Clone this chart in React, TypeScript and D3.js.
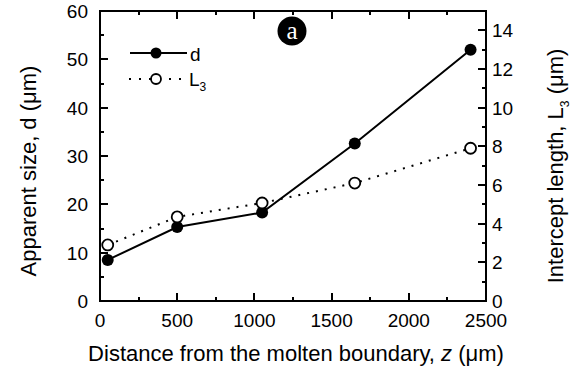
// Apparent size d and intercept length L3 vs distance from molten boundary.
// Twin y-axes (left: d in μm 0–60, right: L3 in μm 0–15), inward ticks,
// framed plot box, Origin-style markers and legend.
import * as d3 from "d3";

const W = 584;
const H = 369;

// data
const distance = [50, 500, 1050, 1650, 2400];
const apparentSize = [8.5, 15.3, 18.3, 32.6, 52.0]; // d, left axis
const interceptLength = [2.9, 4.35, 5.07, 6.1, 7.9]; // L3, right axis

const xTicks = [0, 500, 1000, 1500, 2000, 2500];
const yLeftTicks = [0, 10, 20, 30, 40, 50, 60];
const yRightTicks = [0, 2, 4, 6, 8, 10, 12, 14];

const FONT = "'Liberation Sans', Arial, sans-serif";

export default function App() {
  const m = { left: 100, right: 486, top: 11, bottom: 301 };

  const x = d3.scaleLinear().domain([0, 2500]).range([m.left, m.right]);
  const yL = d3.scaleLinear().domain([0, 60]).range([m.bottom, m.top]);
  const yR = d3.scaleLinear().domain([0, 15]).range([m.bottom, m.top]);

  const line = d3
    .line<[number, number]>()
    .x((d) => d[0])
    .y((d) => d[1]);

  const dPts = distance.map((z, i) => [x(z), yL(apparentSize[i])] as [number, number]);
  const lPts = distance.map((z, i) => [x(z), yR(interceptLength[i])] as [number, number]);

  const major = 8;
  const minor = 4;
  const xMinor = d3.range(250, 2500, 500);
  const yLMinor = d3.range(5, 60, 10);
  const yRMinor = d3.range(1, 15, 2);

  const tick = { stroke: "#000", strokeWidth: 2, shapeRendering: "crispEdges" as const };

  return (
    <svg
      width={W}
      height={H}
      viewBox={`0 0 ${W} ${H}`}
      style={{ position: "fixed", left: 0, top: 0, background: "#fff" }}
      fontFamily={FONT}
    >
      <rect width={W} height={H} fill="#fff" />

      {/* ticks, bottom + top (inward) */}
      {xTicks.slice(1, -1).map((t) => (
        <g key={`xt${t}`}>
          <line x1={x(t)} x2={x(t)} y1={m.bottom} y2={m.bottom - major} {...tick} />
          <line x1={x(t)} x2={x(t)} y1={m.top} y2={m.top + major} {...tick} />
        </g>
      ))}
      {xMinor.map((t) => (
        <g key={`xm${t}`}>
          <line x1={x(t)} x2={x(t)} y1={m.bottom} y2={m.bottom - minor} {...tick} />
          <line x1={x(t)} x2={x(t)} y1={m.top} y2={m.top + minor} {...tick} />
        </g>
      ))}
      {/* left ticks */}
      {yLeftTicks.slice(1, -1).map((t) => (
        <line key={`yl${t}`} x1={m.left} x2={m.left + major} y1={yL(t)} y2={yL(t)} {...tick} />
      ))}
      {yLMinor.map((t) => (
        <line key={`ylm${t}`} x1={m.left} x2={m.left + minor} y1={yL(t)} y2={yL(t)} {...tick} />
      ))}
      {/* right ticks */}
      {yRightTicks.slice(1).map((t) => (
        <line key={`yr${t}`} x1={m.right} x2={m.right - major} y1={yR(t)} y2={yR(t)} {...tick} />
      ))}
      {yRMinor.map((t) => (
        <line key={`yrm${t}`} x1={m.right} x2={m.right - minor} y1={yR(t)} y2={yR(t)} {...tick} />
      ))}

      {/* frame */}
      <rect
        x={m.left}
        y={m.top}
        width={m.right - m.left}
        height={m.bottom - m.top}
        fill="none"
        stroke="#000"
        strokeWidth={2}
        shapeRendering="crispEdges"
      />

      {/* tick labels */}
      {xTicks.map((t) => (
        <text key={`xl${t}`} x={x(t)} y={m.bottom + 26} textAnchor="middle" fontSize={19}>
          {t}
        </text>
      ))}
      {yLeftTicks.map((t) => (
        <text key={`yll${t}`} x={88} y={yL(t) + 7} textAnchor="end" fontSize={19}>
          {t}
        </text>
      ))}
      {yRightTicks.map((t) => (
        <text key={`yrl${t}`} x={492} y={yR(t) + 7} textAnchor="start" fontSize={19}>
          {t}
        </text>
      ))}

      {/* axis titles */}
      <text x={296} y={361} textAnchor="middle" fontSize={22}>
        Distance from the molten boundary, <tspan fontStyle="italic">z</tspan> (μm)
      </text>
      <text transform="translate(36,171) rotate(-90)" textAnchor="middle" fontSize={22}>
        Apparent size, d (μm)
      </text>
      <text transform="translate(563,166) rotate(-90)" textAnchor="middle" fontSize={22}>
        Intercept length, L<tspan fontSize={12} dy={6}>3</tspan>
        <tspan dy={-6}> (μm)</tspan>
      </text>

      {/* series */}
      <path d={line(lPts) ?? ""} fill="none" stroke="#000" strokeWidth={2} strokeDasharray="2,7" />
      <path d={line(dPts) ?? ""} fill="none" stroke="#000" strokeWidth={2} />
      {dPts.map(([cx, cy], i) => (
        <circle key={`dp${i}`} cx={cx} cy={cy} r={6} fill="#000" />
      ))}
      {lPts.map(([cx, cy], i) => (
        <circle key={`lp${i}`} cx={cx} cy={cy} r={5.5} fill="#fff" stroke="#000" strokeWidth={1.8} />
      ))}

      {/* legend */}
      <line x1={130} x2={187} y1={53} y2={53} stroke="#000" strokeWidth={2} />
      <circle cx={156} cy={53} r={5.5} fill="#000" />
      <text x={190} y={61} fontSize={19}>d</text>
      <line x1={129} x2={182} y1={79} y2={79} stroke="#000" strokeWidth={2} strokeDasharray="2,8" />
      <circle cx={156} cy={79} r={5} fill="#fff" stroke="#000" strokeWidth={1.8} />
      <text x={189} y={86} fontSize={19}>
        L<tspan fontSize={12} dy={5}>3</tspan>
      </text>

      {/* panel label */}
      <circle cx={292} cy={31} r={14.5} fill="#000" />
      <text
        x={292}
        y={39}
        textAnchor="middle"
        fontSize={25}
        fill="#fff"
        fontFamily="'Liberation Serif', 'Times New Roman', serif"
      >
        a
      </text>
    </svg>
  );
}
